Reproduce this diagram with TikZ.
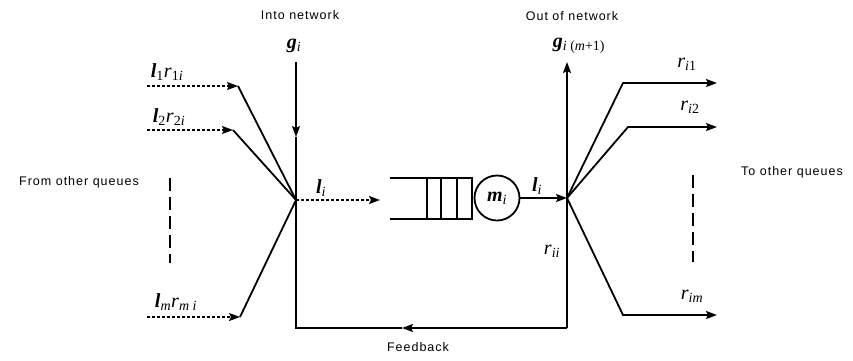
\documentclass[tikz,border=0pt]{standalone}
\usepackage{fontspec}
\setmainfont{Liberation Serif}
\newfontfamily\labfont[LetterSpace=8]{Liberation Sans}
\usetikzlibrary{arrows.meta}
\newcommand\bl{\textbf{\textit{l}}}
\newcommand\bg{\textbf{\textit{g}}}
\newcommand\bmu{\textbf{\textit{m}}}
\begin{document}
\begin{tikzpicture}[x=1pt,y=-1pt,
  line/.style={line width=1.8pt},
  arr/.style={line width=1.8pt,-{Stealth[length=11pt,width=8pt,inset=2pt]}},
  darr/.style={line width=1.4pt,dash pattern=on 3pt off 2pt,-{Stealth[length=11pt,width=8pt,inset=2pt]}},
  vdash/.style={line width=1.8pt,dash pattern=on 13pt off 6pt},
  sym/.style={font=\fontsize{20}{22}\selectfont,inner sep=0pt},
  lab/.style={font=\labfont\fontsize{12.5}{14}\selectfont,inner sep=0pt},
]
\useasboundingbox (0,0) rectangle (853,360);

% junctions
\coordinate (J1) at (296,200);
\coordinate (J2) at (567,198);

% into network
\coordinate (gtop) at (296,62);
\coordinate (gmid) at (296,137);
\draw[arr] (gtop) -- (gmid);
\draw[line] (gmid) -- (J1);
\node[lab] (into) at (300,15) {Into network};
\node[sym] (gin) at (294,46) {\bg\textsubscript{\textit{i}}};

% inputs
\coordinate (s1) at (147,86);  \coordinate (e1) at (238,86);
\coordinate (s2) at (147,130); \coordinate (e2) at (233,130);
\coordinate (sm) at (147,317); \coordinate (em) at (240,317);
\draw[darr] (s1) -- (e1); \draw[line] (e1) -- (J1);
\draw[darr] (s2) -- (e2); \draw[line] (e2) -- (J1);
\draw[darr] (sm) -- (em); \draw[line] (em) -- (J1);
\node[sym] (L1) at (167,72) {\bl\textsubscript{1}\textit{r}\textsubscript{1\textit{i}}};
\node[sym] (L2) at (169,117) {\bl\textsubscript{2}\textit{r}\textsubscript{2\textit{i}}};
\node[sym] (Lm) at (176,302) {\bl\textsubscript{\textit{m}}\textit{r}\textsubscript{\textit{m i}}};
\draw[vdash] (170,178) -- (170,263);
\node[lab] (from) at (79,182) {From other queues};

% arrival to queue
\coordinate (qin) at (380,200);
\draw[darr] (J1) -- (qin);
\node[sym] (li1) at (321,188) {\bl\textsubscript{\textit{i}}};

% queue
\draw[line] (390,178) -- (472,178) -- (472,219) -- (390,219);
\draw[line] (427,178) -- (427,219);
\draw[line] (441,178) -- (441,219);
\draw[line] (457,178) -- (457,219);
\node[draw,circle,line width=1.8pt,minimum size=45pt,inner sep=0pt,font=\fontsize{20}{22}\selectfont] (mu) at (497,198) {\bmu\textsubscript{\textit{i}}};
\draw[arr] (mu.east) -- (J2);
\node[sym] (li2) at (537,186) {\bl\textsubscript{\textit{i}}};

% out of network
\coordinate (otop) at (567,62);
\draw[arr] (J2) -- (otop);
\node[lab] (out) at (572,16) {Out of network};
\node[sym] (gout) at (579,46) {\bg\textsubscript{\textit{i} (\textit{m}+1)}};

% feedback
\coordinate (fb) at (567,328);
\coordinate (fbm) at (402,328);
\coordinate (fbl) at (296,328);
\draw[line] (J2) -- (fb);
\draw[arr] (fb) -- (fbm);
\draw[line] (fbm) -- (fbl) -- (J1);
\node[lab] (feed) at (418,347) {Feedback};
\node[sym] (rii) at (552,251) {\textit{r}\textsubscript{\textit{ii}}};

% outputs
\coordinate (k1) at (623,83);  \coordinate (t1) at (717,83);
\coordinate (k2) at (628,127); \coordinate (t2) at (717,127);
\coordinate (km) at (623,315); \coordinate (tm) at (717,315);
\draw[arr] (J2) -- (k1) -- (t1);
\draw[arr] (J2) -- (k2) -- (t2);
\draw[arr] (J2) -- (km) -- (tm);
\node[sym] (r1) at (687,64) {\textit{r}\textsubscript{\textit{i}1}};
\node[sym] (r2) at (690,107) {\textit{r}\textsubscript{\textit{i}2}};
\node[sym] (rm) at (692,296) {\textit{r}\textsubscript{\textit{im}}};
\draw[vdash] (693,175) -- (693,262);
\node[lab] (to) at (792,172) {To other queues};
\end{tikzpicture}
\end{document}
